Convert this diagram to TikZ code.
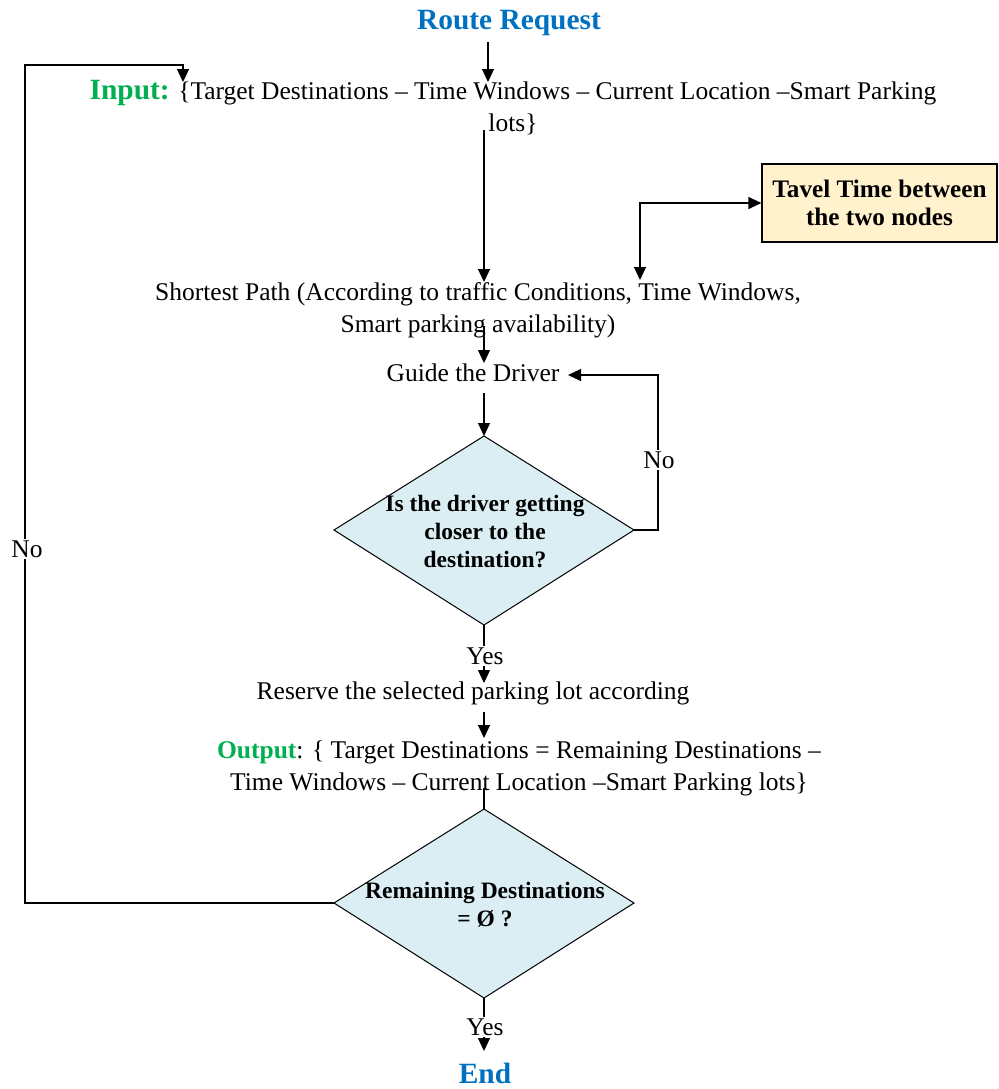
\documentclass[tikz,border=0pt]{standalone}
\usepackage{fontspec}
\setmainfont{Liberation Serif}
\usetikzlibrary{arrows.meta}
\definecolor{rblue}{HTML}{0070C0}
\definecolor{rgreen}{HTML}{00B050}
\definecolor{dfill}{HTML}{DAEEF3}
\definecolor{bfill}{HTML}{FFF2CC}
\begin{document}
\begin{tikzpicture}[x=0.5pt,y=-0.5pt,
  line width=0.6pt,
  tip/.tip={Triangle[length=6.5pt,width=6pt]},
  arr/.style={-tip},
  txt/.style={font=\fontsize{12.75}{16}\selectfont, align=center, inner sep=0pt},
  ttl/.style={font=\fontsize{14.7}{17}\selectfont\bfseries, text=rblue, inner sep=0pt},
  lbl/.style={font=\fontsize{12.75}{16}\selectfont, fill=white, inner sep=1pt},
  dtxt/.style={font=\fontsize{11.75}{14}\selectfont\bfseries, align=center, inner sep=0pt},
  dia/.style={draw, fill=dfill, line width=0.5pt}
]
\useasboundingbox (0,0) rectangle (998,1089);

% titles
\node[ttl] (rr) at (509,23) {Route Request};
\node[ttl] (end) at (485,1073) {End};

% input
\node[txt, anchor=base] (inp) at (513,131) {{\color{rgreen}\fontsize{14.7}{16}\selectfont\bfseries Input:} \{Target Destinations -- Time Windows -- Current Location --Smart Parking\\lots\}};

% travel time box
\node[draw, fill=bfill, line width=0.6pt, minimum width=117.5pt, minimum height=39pt, inner sep=0pt,
      font=\fontsize{12.6}{14}\selectfont\bfseries, align=center] (tt) at (879.5,203) {Tavel Time between\\the two nodes};

% shortest path
\node[txt, anchor=base] (sp) at (478,332) {Shortest Path (According to traffic Conditions, Time Windows,\\Smart parking availability)};

% guide
\node[txt] (gd) at (473,373) {Guide the Driver};

% diamond 1
\coordinate (d1t) at (484,436);
\coordinate (d1r) at (634,530);
\coordinate (d1b) at (484,625);
\coordinate (d1l) at (334,530);
\draw[dia] (d1t) -- (d1r) -- (d1b) -- (d1l) -- cycle;
\node[dtxt, anchor=base] (q1) at (485,567) {Is the driver getting\\closer to the\\destination?};

% reserve
\node[txt] (rs) at (473,693) {Reserve the selected parking lot according};

% output
\node[txt, anchor=base] (out) at (519,790) {{\color{rgreen}\bfseries Output}: \{ Target Destinations = Remaining Destinations --\\Time Windows -- Current Location --Smart Parking lots\}};

% diamond 2
\coordinate (d2t) at (484,809);
\coordinate (d2r) at (634,903);
\coordinate (d2b) at (484,998);
\coordinate (d2l) at (334,903);
\draw[dia] (d2t) -- (d2r) -- (d2b) -- (d2l) -- cycle;
\node[dtxt, anchor=base] (q2) at (485,926) {Remaining Destinations\\= Ø ?};

% connectors
\coordinate (a1e) at (488,82);
\draw[arr] (rr.south -| a1e) ++(0,6) -- (a1e);

\coordinate (a2s) at (484,130);
\coordinate (a2e) at (484,282);
\draw[arr] (a2s) -- (a2e);

\coordinate (a3s) at (640,280);
\draw[tip-tip] (a3s) |- (tt.west);

\coordinate (a4s) at (484,326);
\coordinate (a4e) at (484,363);
\draw[arr] (a4s) -- (a4e);

\coordinate (a5s) at (484,393);
\draw[arr] (a5s) -- (d1t);

\coordinate (nr1) at (658,530);
\coordinate (nr2) at (658,375);
\coordinate (nr3) at (568,375);
\draw[arr] (d1r) -- (nr1) -- (nr2) -- (nr3);
\node[lbl] (no1) at (659,460) {No};

\coordinate (y1e) at (484,683);
\draw[arr] (d1b) -- (y1e);
\node[lbl] (yes1) at (485,656) {Yes};

\coordinate (a6s) at (484,712);
\coordinate (a6e) at (484,738);
\draw[arr] (a6s) -- (a6e);

\coordinate (a7s) at (484,788);
\draw (a7s) -- (d2t);

\coordinate (y2e) at (484,1051);
\draw[arr] (d2b) -- (y2e);
\node[lbl] (yes2) at (485,1027) {Yes};

\coordinate (nl1) at (25,903);
\coordinate (nl2) at (25,65);
\coordinate (nl3) at (183,65);
\coordinate (nl4) at (183,82);
\draw[arr] (d2l) -- (nl1) -- (nl2) -- (nl3) -- (nl4);
\node[lbl] (no2) at (27,549) {No};
\end{tikzpicture}
\end{document}
